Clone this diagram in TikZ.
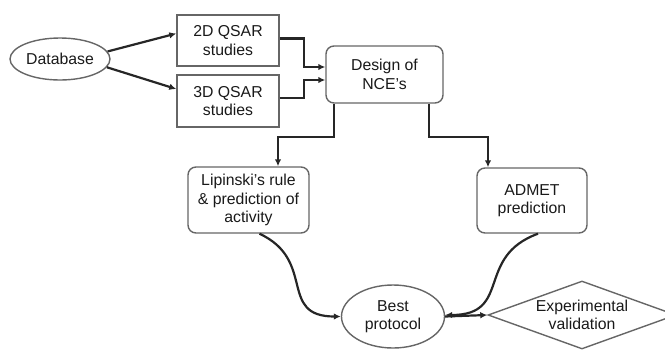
\documentclass[tikz,border=0pt]{standalone}
\usepackage{fontspec}
\setmainfont{Liberation Sans}
\usetikzlibrary{shapes.geometric,arrows.meta}
\definecolor{edgegray}{HTML}{666666}
\definecolor{linkdark}{HTML}{262626}
\begin{document}
\begin{tikzpicture}[x=1pt,y=-1pt,
  every node/.style={font=\fontsize{15.8}{18.5}\selectfont, align=center, inner sep=0pt, text=black!90},
  plainbox/.style={draw=edgegray, line width=1.4pt, rectangle},
  roundbox/.style={draw=edgegray, line width=1.4pt, rectangle, rounded corners=8pt},
  ovalbox/.style={draw=edgegray, line width=1.4pt, ellipse},
  decisionbox/.style={draw=edgegray, line width=1.4pt, diamond, aspect=2.8},
  link/.style={draw=linkdark, line width=2.2pt, -{Latex[length=7pt,width=6.5pt]}}
]
\useasboundingbox (0,0) rectangle (665,349);
\clip (0,0) rectangle (665,349);

% nodes
\node[ovalbox, minimum width=100pt, minimum height=42pt] (db) at (60,59) {Database};
\node[plainbox, minimum width=102pt, minimum height=51pt] (q2) at (228,40.5) {2D QSAR\\studies};
\node[plainbox, minimum width=102pt, minimum height=52pt] (q3) at (228,101) {3D QSAR\\studies};
\node[roundbox, minimum width=117pt, minimum height=57pt] (nce) at (384.5,74.5) {Design of\\NCE’s};
\node[roundbox, minimum width=121pt, minimum height=66pt] (lip) at (248.5,200) {Lipinski’s rule\\\& prediction of\\activity};
\node[roundbox, minimum width=110pt, minimum height=65pt] (adm) at (532,200.5) {ADMET\\prediction};
\node[ovalbox, minimum width=103pt, minimum height=63pt] (best) at (393,316.5) {Best\\protocol};
\node[decisionbox, minimum width=188pt, minimum height=68pt] (exp) at (582,315) {Experimental\\validation};

% connectors
\draw[link] (db.9) -- ([yshift=7pt]q2.west);
\draw[link] (db.-10) -- ([yshift=12pt]q3.west);
\draw[link] ([yshift=2pt]q2.east) -- ++(24,0) |- ([yshift=7.5pt]nce.west);
\draw[link] ([yshift=3pt]q3.east) -- ++(24,0) |- ([yshift=-5.5pt]nce.west);
\draw[link] ([xshift=9pt]nce.south west) -- ++(0,33) -| ([xshift=29.5pt]lip.north);
\draw[link] ([xshift=-15pt]nce.south east) -- ++(0,33) -| ([xshift=-44pt]adm.north);
\draw[link] ([xshift=11pt]lip.south) to[out=-25, in=180, looseness=1.4] (best.west);
\draw[link] ([xshift=6pt]adm.south) to[out=200, in=0, looseness=1.4] ([yshift=1.5pt]best.east);
\draw[link] (best.east) -- (exp.west);
\end{tikzpicture}
\end{document}
